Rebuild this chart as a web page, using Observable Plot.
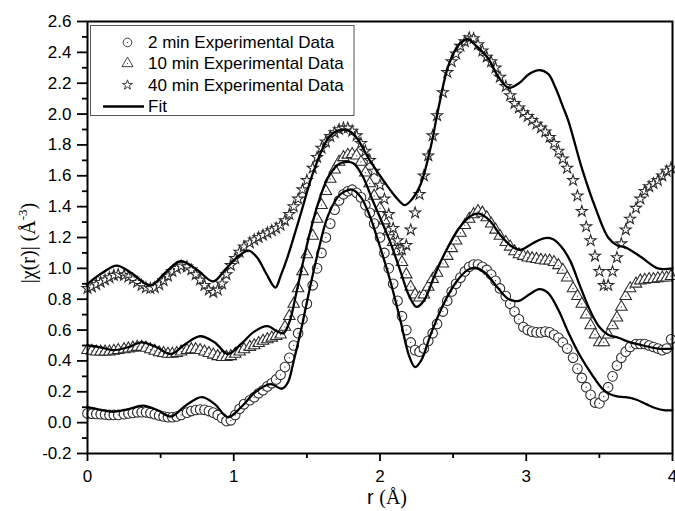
<!DOCTYPE html>
<html><head><meta charset="utf-8">
<script src="https://cdn.jsdelivr.net/npm/d3@7"></script>
<script src="https://cdn.jsdelivr.net/npm/@observablehq/plot@0.6"></script>
<style>body{margin:0;background:#fff}</style>
</head><body><div id="chart"></div>
<script>
// r grid (Å) of the experimental data
const rGrid = [0.00,0.03,0.06,0.09,0.12,0.15,0.18,0.21,0.25,0.28,
0.31,0.34,0.37,0.40,0.43,0.46,0.49,0.52,0.55,0.58,
0.61,0.64,0.68,0.71,0.74,0.77,0.80,0.83,0.86,0.89,
0.92,0.95,0.98,1.01,1.04,1.07,1.11,1.14,1.17,1.20,
1.23,1.26,1.29,1.32,1.35,1.38,1.41,1.44,1.47,1.50,
1.54,1.57,1.60,1.63,1.66,1.69,1.72,1.75,1.78,1.81,
1.84,1.87,1.90,1.93,1.96,2.00,2.03,2.06,2.09,2.12,
2.15,2.18,2.21,2.24,2.27,2.30,2.33,2.36,2.39,2.43,
2.46,2.49,2.52,2.55,2.58,2.61,2.64,2.67,2.70,2.73,
2.76,2.79,2.82,2.86,2.89,2.92,2.95,2.98,3.01,3.04,
3.07,3.10,3.13,3.16,3.19,3.22,3.25,3.28,3.32,3.35,
3.38,3.41,3.44,3.47,3.50,3.53,3.56,3.59,3.62,3.65,
3.68,3.71,3.75,3.78,3.81,3.84,3.87,3.90,3.93,3.96,
3.99];

const chi2min = [0.06,0.058,0.056,0.055,0.053,0.05,0.05,0.05,0.055,0.06,
0.063,0.067,0.068,0.067,0.062,0.055,0.047,0.04,0.035,0.035,
0.04,0.05,0.065,0.075,0.082,0.085,0.083,0.075,0.065,0.05,
0.03,0.01,0.015,0.05,0.09,0.12,0.145,0.165,0.19,0.21,
0.235,0.255,0.28,0.31,0.36,0.42,0.50,0.58,0.67,0.77,
0.89,1.00,1.10,1.20,1.29,1.38,1.44,1.48,1.50,1.51,
1.49,1.46,1.41,1.36,1.29,1.20,1.10,1.00,0.90,0.79,
0.69,0.60,0.52,0.47,0.46,0.48,0.53,0.58,0.64,0.72,
0.79,0.85,0.90,0.94,0.98,1.01,1.025,1.025,1.01,0.99,
0.96,0.92,0.87,0.82,0.77,0.72,0.67,0.62,0.60,0.59,
0.585,0.585,0.59,0.585,0.57,0.55,0.52,0.48,0.42,0.35,
0.29,0.23,0.18,0.13,0.125,0.17,0.23,0.30,0.37,0.42,
0.46,0.49,0.51,0.51,0.51,0.50,0.49,0.48,0.47,0.48,
0.54];

const chi10min = [0.47,0.465,0.46,0.46,0.46,0.46,0.465,0.47,0.475,0.48,
0.485,0.49,0.49,0.485,0.475,0.465,0.455,0.45,0.445,0.445,
0.45,0.46,0.47,0.475,0.475,0.47,0.46,0.45,0.44,0.43,
0.425,0.425,0.43,0.445,0.46,0.475,0.49,0.50,0.515,0.53,
0.54,0.55,0.56,0.57,0.62,0.69,0.77,0.87,0.98,1.09,
1.21,1.32,1.41,1.50,1.58,1.64,1.69,1.72,1.735,1.74,
1.73,1.69,1.62,1.55,1.47,1.39,1.31,1.24,1.17,1.11,
1.04,0.96,0.88,0.83,0.81,0.83,0.88,0.93,0.97,1.03,
1.08,1.13,1.18,1.23,1.28,1.32,1.35,1.37,1.36,1.33,
1.29,1.25,1.21,1.17,1.14,1.11,1.09,1.08,1.07,1.065,
1.06,1.055,1.05,1.05,1.04,1.02,0.99,0.94,0.87,0.82,
0.77,0.70,0.63,0.57,0.52,0.52,0.57,0.63,0.68,0.75,
0.82,0.87,0.90,0.92,0.925,0.93,0.93,0.935,0.94,0.94,
0.95];

const chi40min = [0.87,0.88,0.895,0.91,0.925,0.94,0.955,0.96,0.955,0.945,
0.93,0.91,0.89,0.875,0.87,0.875,0.895,0.92,0.95,0.98,
1.00,1.015,1.01,0.99,0.96,0.925,0.89,0.86,0.845,0.86,
0.90,0.96,1.02,1.065,1.105,1.14,1.165,1.185,1.20,1.215,
1.23,1.245,1.26,1.28,1.31,1.35,1.40,1.45,1.51,1.57,
1.65,1.72,1.78,1.82,1.855,1.88,1.90,1.91,1.91,1.89,
1.86,1.81,1.76,1.70,1.63,1.54,1.45,1.35,1.26,1.18,
1.12,1.15,1.25,1.36,1.48,1.60,1.73,1.86,1.99,2.14,
2.27,2.34,2.39,2.44,2.47,2.495,2.49,2.45,2.41,2.37,
2.34,2.30,2.24,2.18,2.12,2.07,2.04,2.01,1.985,1.96,
1.935,1.91,1.885,1.85,1.81,1.76,1.71,1.65,1.57,1.47,
1.37,1.27,1.18,1.08,0.98,0.89,0.89,0.98,1.07,1.16,
1.25,1.32,1.39,1.45,1.50,1.53,1.55,1.57,1.60,1.63,
1.65];

// fit curves [r, |chi(r)|]
const fit2min = [[0,0.10],[0.08,0.085],[0.17,0.07],[0.27,0.085],[0.38,0.11],[0.48,0.08],[0.57,0.04],[0.67,0.11],[0.78,0.165],[0.87,0.12],[0.96,0.035],[1.05,0.10],[1.15,0.20],[1.25,0.25],[1.33,0.22],[1.37,0.26],[1.41,0.40],[1.46,0.60],[1.52,0.87],[1.58,1.12],[1.64,1.33],[1.71,1.46],[1.76,1.50],[1.81,1.51],[1.87,1.46],[1.93,1.34],[1.98,1.20],[2.07,0.92],[2.14,0.66],[2.20,0.43],[2.24,0.36],[2.28,0.40],[2.35,0.58],[2.43,0.76],[2.52,0.91],[2.60,0.99],[2.65,1.005],[2.72,0.97],[2.80,0.88],[2.88,0.80],[2.95,0.79],[3.02,0.83],[3.09,0.865],[3.15,0.84],[3.22,0.73],[3.29,0.58],[3.37,0.43],[3.45,0.31],[3.52,0.22],[3.57,0.185],[3.62,0.17],[3.68,0.165],[3.75,0.15],[3.82,0.12],[3.88,0.095],[3.95,0.08],[4.0,0.08]];
const fit10min = [[0,0.50],[0.08,0.49],[0.18,0.47],[0.28,0.49],[0.37,0.52],[0.47,0.49],[0.57,0.445],[0.67,0.51],[0.77,0.56],[0.87,0.52],[0.96,0.445],[1.05,0.51],[1.14,0.59],[1.23,0.625],[1.30,0.59],[1.34,0.58],[1.38,0.65],[1.43,0.85],[1.50,1.15],[1.57,1.40],[1.64,1.58],[1.71,1.67],[1.77,1.69],[1.82,1.68],[1.88,1.60],[1.95,1.44],[2.00,1.33],[2.07,1.17],[2.14,0.98],[2.20,0.82],[2.25,0.75],[2.30,0.79],[2.38,0.97],[2.46,1.13],[2.54,1.26],[2.62,1.34],[2.68,1.355],[2.75,1.31],[2.82,1.22],[2.89,1.15],[2.96,1.12],[3.04,1.16],[3.12,1.195],[3.18,1.19],[3.24,1.14],[3.30,1.05],[3.37,0.88],[3.44,0.72],[3.50,0.62],[3.56,0.57],[3.63,0.55],[3.71,0.52],[3.80,0.50],[3.90,0.48],[4.0,0.48]];
const fit40min = [[0,0.90],[0.10,0.97],[0.20,1.018],[0.30,0.97],[0.43,0.89],[0.53,0.97],[0.636,1.046],[0.75,0.99],[0.86,0.915],[0.94,0.99],[1.01,1.06],[1.10,1.115],[1.16,1.07],[1.22,0.97],[1.285,0.875],[1.32,0.95],[1.37,1.08],[1.46,1.36],[1.55,1.64],[1.66,1.86],[1.75,1.90],[1.82,1.87],[1.93,1.70],[2.03,1.56],[2.11,1.46],[2.17,1.41],[2.22,1.45],[2.28,1.55],[2.35,1.80],[2.40,2.04],[2.47,2.32],[2.54,2.45],[2.60,2.485],[2.66,2.44],[2.74,2.36],[2.81,2.24],[2.88,2.17],[2.95,2.20],[3.02,2.26],[3.09,2.285],[3.15,2.26],[3.20,2.17],[3.25,2.05],[3.29,1.95],[3.38,1.65],[3.47,1.40],[3.56,1.20],[3.62,1.15],[3.68,1.135],[3.79,1.07],[3.90,1.00],[4.0,1.00]];

const xTicks = [0, 1, 2, 3, 4];
const xMinor = [0.5, 1.5, 2.5, 3.5];
const yTicks = [-0.2, 0.0, 0.2, 0.4, 0.6, 0.8, 1.0, 1.2, 1.4, 1.6, 1.8, 2.0, 2.2, 2.4, 2.6];
const yMinor = [-0.1, 0.1, 0.3, 0.5, 0.7, 0.9, 1.1, 1.3, 1.5, 1.7, 1.9, 2.1, 2.3, 2.5];
const legendLabels = ["2 min Experimental Data", "10 min Experimental Data", "40 min Experimental Data", "Fit"];

const rows = ys => rGrid.map((x, i) => ({r: x, y: ys[i]}));
const d2 = rows(chi2min), d10 = rows(chi10min), d40 = rows(chi40min);
const mk = "#2a2a2a";
const mw = 1.05;
const rC = 4.8, rT = 4.3, rS = 3.5;

const plot = Plot.plot({
  width: 675, height: 511,
  marginLeft: 87, marginRight: 3, marginTop: 21, marginBottom: 58,
  x: {domain: [0, 4]},
  y: {domain: [-0.2, 2.6]},
  style: {fontFamily: "'Liberation Sans', Arial, sans-serif", fontSize: "17px", color: "#000", background: "#fff", overflow: "visible"},
  marks: [
    Plot.dot(d2, {x: "r", y: "y", symbol: "circle", r: rC, fill: "white", stroke: mk, strokeWidth: mw}),
    Plot.dot(d2, {x: "r", y: "y", r: 0.6, fill: mk}),
    Plot.dot(d10, {x: "r", y: "y", symbol: "triangle", r: rT, fill: "white", stroke: mk, strokeWidth: mw}),
    Plot.dot(d10, {x: "r", y: "y", r: 0.6, fill: mk}),
    Plot.dot(d40, {x: "r", y: "y", symbol: "star", r: rS, fill: "white", stroke: mk, strokeWidth: mw}),
    Plot.line(fit2min, {x: d => d[0], y: d => d[1], curve: "catmull-rom", stroke: "black", strokeWidth: 2.3}),
    Plot.line(fit10min, {x: d => d[0], y: d => d[1], curve: "catmull-rom", stroke: "black", strokeWidth: 2.3}),
    Plot.line(fit40min, {x: d => d[0], y: d => d[1], curve: "catmull-rom", stroke: "black", strokeWidth: 2.3}),
    Plot.axisX(xTicks, {tickSize: 8, tickPadding: 8, tickFormat: d => String(d), label: null, strokeWidth: 1.8, fontSize: 17}),
    Plot.axisX(xMinor, {tickSize: 5, tickFormat: () => "", label: null, strokeWidth: 1.8}),
    Plot.axisY(yTicks, {tickSize: 10, tickPadding: 6, tickFormat: d => d.toFixed(1), label: null, strokeWidth: 1.8, fontSize: 17}),
    Plot.axisY(yMinor, {tickSize: 5, tickFormat: () => "", label: null, strokeWidth: 1.8}),
    Plot.frame({stroke: "black", strokeWidth: 2})
  ]
});

const svg = d3.select(plot);
// Y axis title
const yl = svg.append("text")
  .attr("transform", "translate(35,243) rotate(-90)")
  .attr("text-anchor", "middle")
  .attr("font-family", "'Liberation Serif', 'Times New Roman', serif")
  .attr("font-size", 20).attr("fill", "#000");
yl.append("tspan").text("|χ(r)| (Å");
yl.append("tspan").attr("dy", -8).attr("font-size", 13).text("-3");
yl.append("tspan").attr("dy", 8).text(")");
// X axis title
const xl = svg.append("text")
  .attr("x", 387).attr("y", 504)
  .attr("text-anchor", "middle")
  .attr("font-size", 20).attr("fill", "#000");
xl.append("tspan").attr("font-family", "'Liberation Sans', Arial, sans-serif").text("r ");
xl.append("tspan").attr("font-family", "'Liberation Serif', 'Times New Roman', serif").text("(Å)");

// Legend
const lg = svg.append("g").attr("text-anchor", "start");
lg.append("rect").attr("x", 90.5).attr("y", 25.5).attr("width", 263.5).attr("height", 90)
  .attr("fill", "white").attr("stroke", "#555").attr("stroke-width", 1);
const symX = 127.5;
const rowsY = [42.5, 63.5, 85, 106.5];
const syms = [[d3.symbolCircle, 4.3], [d3.symbolTriangle, 4.1], [d3.symbolStar, 3.1]];
syms.forEach(([s, rr], i) => {
  lg.append("path").attr("d", d3.symbol(s, Math.PI * rr * rr)())
    .attr("transform", `translate(${symX},${rowsY[i]})`)
    .attr("fill", "white").attr("stroke", mk).attr("stroke-width", 0.9);
  if (i < 2) lg.append("circle").attr("cx", symX).attr("cy", rowsY[i]).attr("r", 0.6).attr("fill", mk);
});
lg.append("line").attr("x1", 103).attr("x2", 144).attr("y1", rowsY[3]).attr("y2", rowsY[3])
  .attr("stroke", "black").attr("stroke-width", 2.3);
legendLabels.forEach((t, i) => {
  lg.append("text").attr("x", 148).attr("y", rowsY[i]).attr("dy", "0.35em")
    .attr("text-anchor", "start")
    .attr("font-family", "'Liberation Sans', Arial, sans-serif").attr("font-size", 17)
    .attr("fill", "#000").text(t);
});

document.getElementById("chart").appendChild(plot);
</script>
</body></html>
